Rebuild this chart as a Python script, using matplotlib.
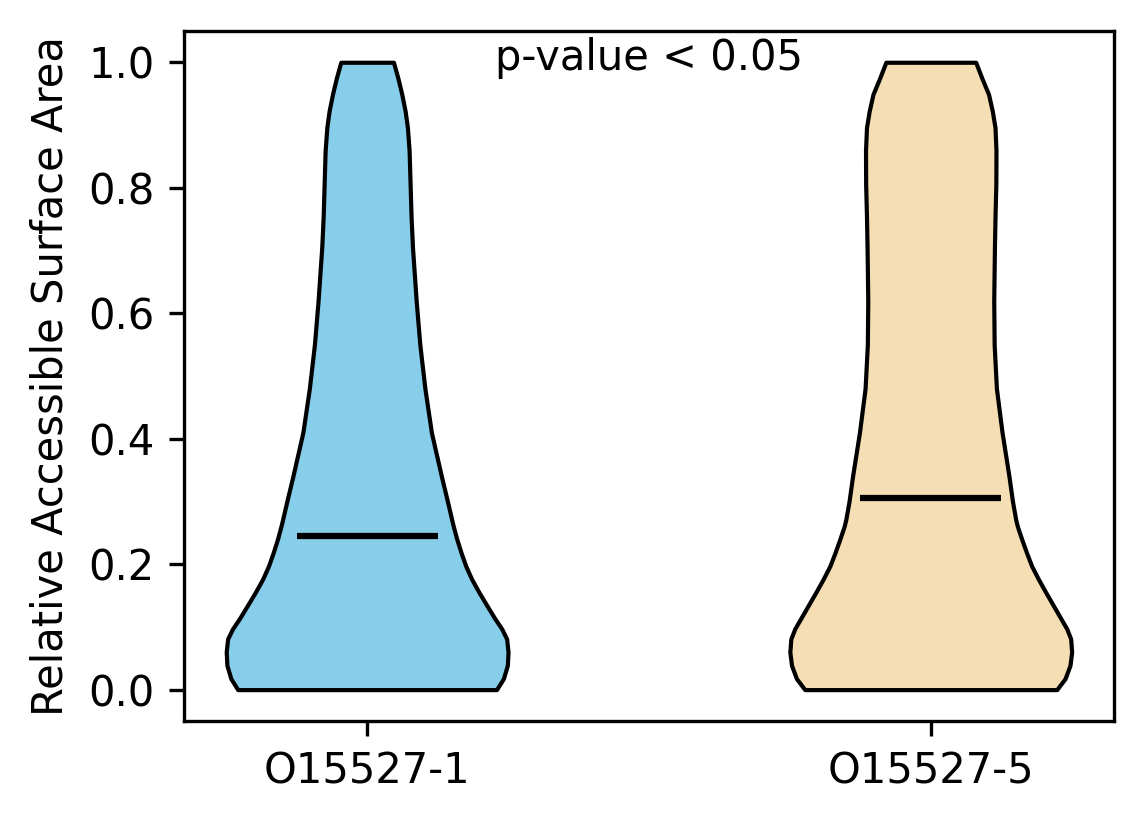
import matplotlib
matplotlib.use("Agg")
import matplotlib.pyplot as plt
import numpy as np

# groups and summary values
labels = ["O15527-1", "O15527-5"]
means = [0.245, 0.306]
colors = ["skyblue", "wheat"]

# density profile (relative half-width) at each RSA level
y1 = [0.0, 0.0175, 0.0386, 0.06, 0.081, 0.097, 0.113, 0.134, 0.155, 0.176,
      0.197, 0.218, 0.24, 0.26, 0.271, 0.30, 0.34, 0.41, 0.48, 0.55, 0.62,
      0.705, 0.753, 0.806, 0.859, 0.896, 0.922, 0.949, 0.975, 1.0]
d1 = [0.918, 0.967, 0.995, 1.0, 0.99, 0.955, 0.907, 0.85, 0.794, 0.742,
      0.70, 0.667, 0.636, 0.612, 0.60, 0.57, 0.527, 0.456, 0.41, 0.374, 0.348,
      0.322, 0.312, 0.305, 0.298, 0.286, 0.27, 0.246, 0.218, 0.187]

y2 = [0.0, 0.0175, 0.0386, 0.06, 0.081, 0.097, 0.113, 0.134, 0.155, 0.176,
      0.197, 0.218, 0.24, 0.26, 0.271, 0.30, 0.34, 0.41, 0.48, 0.55, 0.62,
      0.705, 0.753, 0.806, 0.859, 0.896, 0.922, 0.949, 0.975, 1.0]
d2 = [0.894, 0.953, 0.988, 1.0, 0.993, 0.965, 0.924, 0.87, 0.816, 0.764,
      0.716, 0.68, 0.645, 0.615, 0.603, 0.58, 0.555, 0.506, 0.466, 0.45, 0.447,
      0.452, 0.456, 0.462, 0.463, 0.456, 0.437, 0.41, 0.362, 0.319]

stats = []
for yy, dd, m in [(y1, d1, means[0]), (y2, d2, means[1])]:
    stats.append({"coords": np.array(yy), "vals": np.array(dd), "mean": m,
                  "median": m, "min": min(yy), "max": max(yy)})

fig = plt.figure(figsize=(3.813, 2.747), dpi=300)
ax = fig.add_axes([0.1608, 0.125, 0.813, 0.8374])

parts = ax.violin(stats, positions=[1, 2], widths=0.5, showmeans=True,
                  showextrema=False, showmedians=False)
for body, c in zip(parts["bodies"], colors):
    body.set_facecolor(c)
    body.set_edgecolor("black")
    body.set_linewidth(1.0)
    body.set_alpha(1)
parts["cmeans"].set_color("black")
parts["cmeans"].set_linewidth(1.5)

ax.set_xticks([1, 2])
ax.set_xticklabels(labels)
ax.set_ylabel("Relative Accessible Surface Area")
ax.text(1.5, 1.007, "p-value < 0.05", ha="center", va="center")

fig.savefig("out.png", dpi=300)
